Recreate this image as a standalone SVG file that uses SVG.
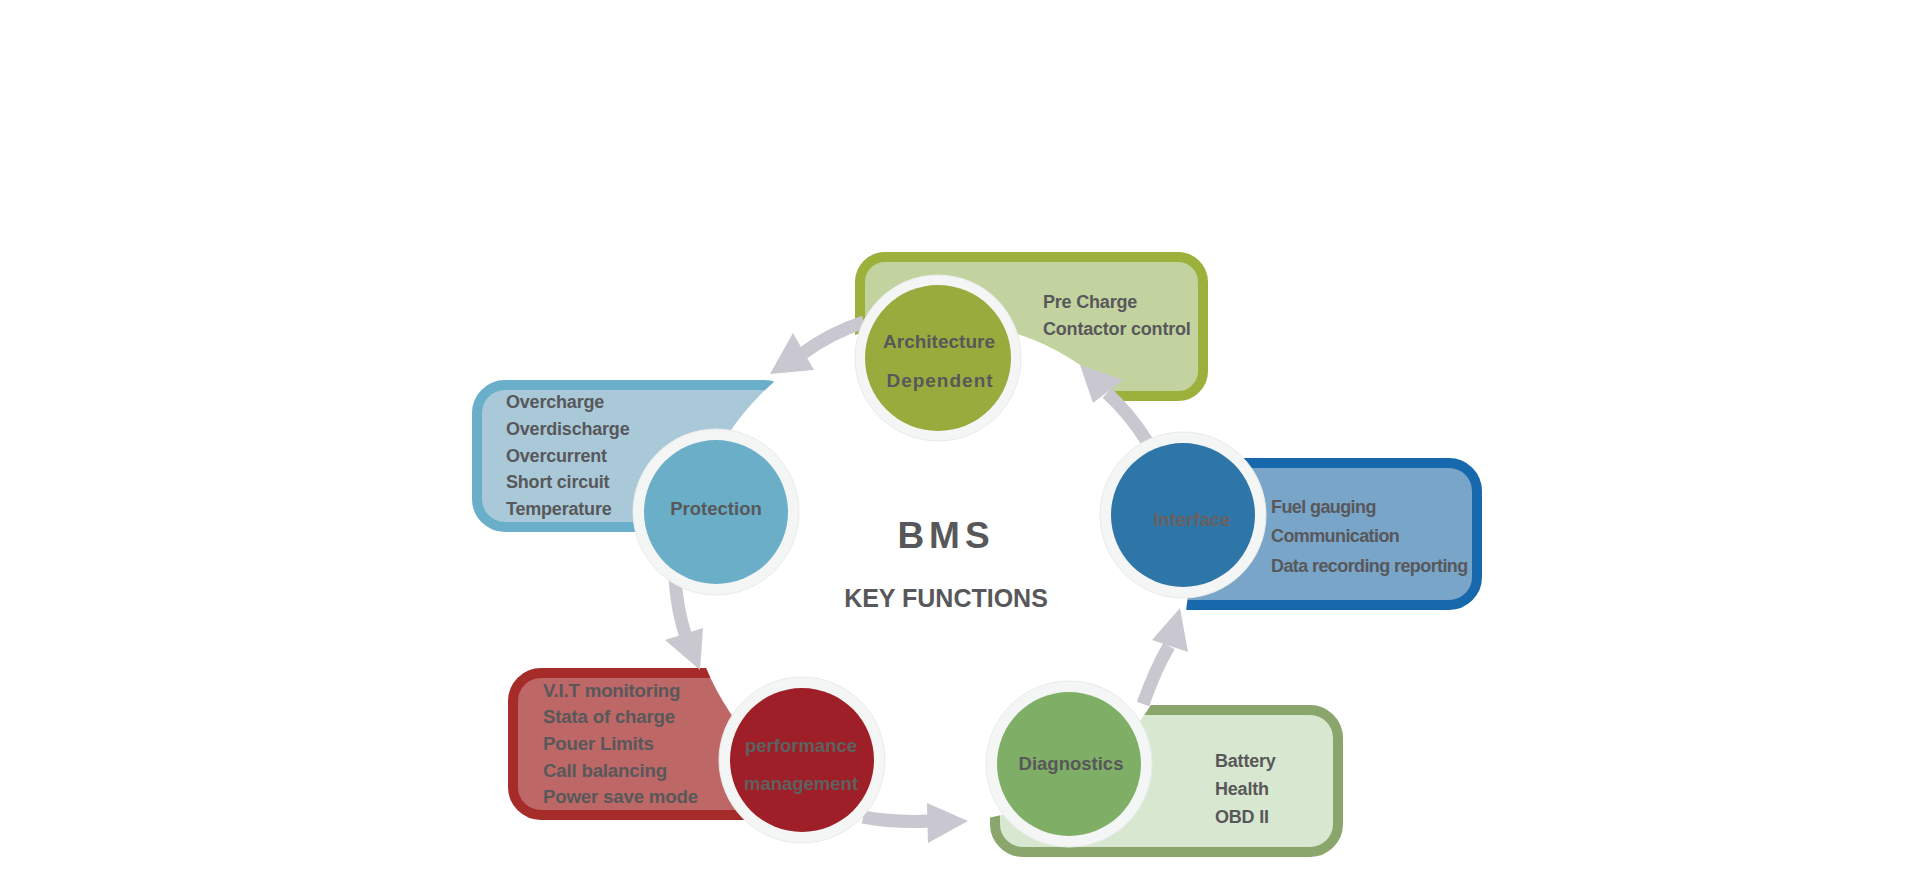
<svg xmlns="http://www.w3.org/2000/svg" width="1920" height="890" viewBox="0 0 1920 890">
<style>
  .t{font-family:"Liberation Sans",Arial,sans-serif;font-weight:bold;fill:#58585a;font-size:18px;letter-spacing:-0.2px}
  .tn{letter-spacing:-0.6px}
  .tp{font-size:18.7px}
  .lbl{font-family:"Liberation Sans",Arial,sans-serif;font-weight:bold;fill:#58585a;font-size:18.5px;text-anchor:middle}
  .box{stroke-width:10}
  .ring{fill:#f4f5f5;stroke:#e9ebeb;stroke-width:1}
  .arr{fill:none;stroke:#c9c8d0;stroke-width:13}
  .head{fill:#c9c8d0}
</style>
<rect width="1920" height="890" fill="#ffffff"/>

<!-- boxes -->
<g id="box-architecture"><rect class="box" x="860" y="257" width="343" height="139" rx="25" fill="#c3d3a0" stroke="#9cb03c"/></g>
<g id="box-protection"><rect class="box" x="477" y="385" width="315" height="142" rx="28" fill="#a9c9d9" stroke="#6aafc9"/></g>
<g id="box-interface"><rect class="box" x="1160" y="463" width="317" height="142" rx="28" fill="#79a5c9" stroke="#1768ad"/></g>
<g id="box-performance"><rect class="box" x="513" y="673" width="260" height="142" rx="28" fill="#bd6867" stroke="#a52c29"/></g>
<g id="box-diagnostics"><rect class="box" x="995" y="710" width="343" height="142" rx="28" fill="#d8e7cf" stroke="#8aa66c"/></g>

<!-- central white disc -->
<circle cx="938" cy="572" r="251" fill="#ffffff"/>

<!-- connectors -->
<g id="connectors">
  <path class="arr" d="M 864 322 Q 830 333 802 354"/>
  <polygon class="head" points="793,333 814,370 770,374"/>
  <path class="arr" d="M 675 578 Q 677 610 686 637"/>
  <polygon class="head" points="665,640 703,628 700,670"/>
  <path class="arr" d="M 863 817 Q 895 823 930 821"/>
  <polygon class="head" points="927,803 928,843 968,821"/>
  <path class="arr" d="M 1143 704 Q 1155 670 1169 646"/>
  <polygon class="head" points="1152,640 1188,652 1180,608"/>
  <path class="arr" d="M 1148 443 Q 1130 414 1107 393"/>
  <polygon class="head" points="1123,380 1093,403 1080,365"/>
</g>

<!-- nodes -->
<g id="node-architecture">
  <circle class="ring" cx="938" cy="358" r="83"/>
  <circle cx="938" cy="358" r="73" fill="#9aab3e"/>
  <text class="lbl" x="939" y="348" style="font-size:19px">Architecture</text>
  <text class="lbl" x="940" y="387" style="font-size:19px;letter-spacing:1px">Dependent</text>
  <text class="t" x="1043" y="308">Pre Charge</text>
  <text class="t" x="1043" y="335">Contactor control</text>
</g>

<g id="node-protection">
  <circle class="ring" cx="716" cy="512" r="83"/>
  <circle cx="716" cy="512" r="72" fill="#6aaec8"/>
  <text class="lbl" x="716" y="515">Protection</text>
  <text class="t" x="506" y="408">Overcharge</text>
  <text class="t" x="506" y="435">Overdischarge</text>
  <text class="t" x="506" y="462">Overcurrent</text>
  <text class="t" x="506" y="488">Short circuit</text>
  <text class="t" x="506" y="515">Temperature</text>
</g>

<g id="node-interface">
  <circle class="ring" cx="1183" cy="515" r="83"/>
  <circle cx="1183" cy="515" r="72" fill="#2e75a8"/>
  <text class="lbl" x="1192" y="526" style="fill:#6b605c">Interface</text>
  <text class="t tn" x="1271" y="513">Fuel gauging</text>
  <text class="t tn" x="1271" y="542">Communication</text>
  <text class="t tn" x="1271" y="572">Data recording reporting</text>
</g>

<g id="node-performance">
  <circle class="ring" cx="802" cy="760" r="83"/>
  <circle cx="802" cy="760" r="72" fill="#9e1f27"/>
  <text class="lbl" x="801" y="752" style="fill:#5d6160">performance</text>
  <text class="lbl" x="801" y="790" style="fill:#5d6160">management</text>
  <text class="t tp" x="543" y="697">V.I.T monitoring</text>
  <text class="t tp" x="543" y="723">Stata of charge</text>
  <text class="t tp" x="543" y="750">Pouer Limits</text>
  <text class="t tp" x="543" y="777">Call balancing</text>
  <text class="t tp" x="543" y="803">Power save mode</text>
</g>

<g id="node-diagnostics">
  <circle class="ring" cx="1069" cy="764" r="83"/>
  <circle cx="1069" cy="764" r="72" fill="#7fae66"/>
  <text class="lbl" x="1071" y="770">Diagnostics</text>
  <text class="t" x="1215" y="767">Battery</text>
  <text class="t" x="1215" y="795">Health</text>
  <text class="t" x="1215" y="823">OBD II</text>
</g>

<g id="title">
  <text x="946" y="548" text-anchor="middle" style="font-family:'Liberation Sans',Arial,sans-serif;font-weight:bold;font-size:37px;letter-spacing:5px;fill:#58585a">BMS</text>
  <text x="946" y="607" text-anchor="middle" style="font-family:'Liberation Sans',Arial,sans-serif;font-weight:bold;font-size:25px;fill:#58585a">KEY FUNCTIONS</text>
</g>
</svg>
